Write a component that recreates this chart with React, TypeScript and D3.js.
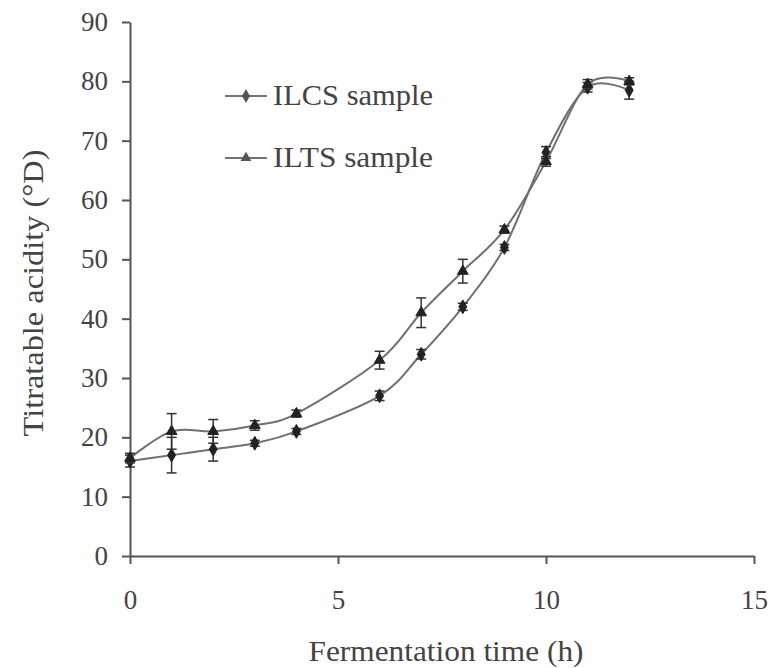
import React, { useRef, useEffect } from "react";
import * as d3 from "d3";

// fermentation time (h)
const times = [0, 1, 2, 3, 4, 6, 7, 8, 9, 10, 11, 12];
const ilcsValues = [16, 17, 18, 19, 21, 27, 34, 42, 52, 68, 79, 78.5];
const ilcsErrors = [1, 3, 2, 0.5, 0.5, 0.8, 0.8, 0.6, 0.5, 1, 0.8, 1.5];
const iltsValues = [16.5, 21, 21, 22, 24, 33, 41, 48, 55, 66.5, 79.5, 80];
const iltsErrors = [0.8, 3, 2, 0.8, 0.6, 1.5, 2.5, 2, 0.6, 0.8, 0.8, 0.6];
const xTicks = [0, 5, 10, 15];
const yTicks = [0, 10, 20, 30, 40, 50, 60, 70, 80, 90];
const seriesNames = ["ILCS sample", "ILTS sample"];

const App = () => {
  const svgRef = useRef<SVGSVGElement | null>(null);

  useEffect(() => {
    const width = 771;
    const height = 668;
    const margin = { top: 22, right: 17, bottom: 112, left: 130 };
    const svg = d3.select(svgRef.current);
    svg.selectAll("*").remove();
    svg.attr("width", width).attr("height", height);

    const x = d3.scaleLinear().domain([0, 15]).range([margin.left, width - margin.right]);
    const y = d3.scaleLinear().domain([0, 90]).range([height - margin.bottom, margin.top]);

    const axisColor = "#555";
    const textColor = "#444";
    const font = "'Liberation Serif', 'Times New Roman', serif";

    // axes
    const xAxis = svg
      .append("g")
      .attr("transform", `translate(0, ${y(0)})`)
      .call(d3.axisBottom(x).tickValues(xTicks).tickSize(8).tickPadding(26).tickSizeOuter(0));
    const yAxis = svg
      .append("g")
      .attr("transform", `translate(${x(0)}, 0)`)
      .call(d3.axisLeft(y).tickValues(yTicks).tickSize(8).tickPadding(14).tickSizeOuter(0));

    [xAxis, yAxis].forEach((g) => {
      g.select(".domain").attr("stroke", axisColor).attr("stroke-width", 2);
      g.selectAll(".tick line").attr("stroke", axisColor).attr("stroke-width", 2);
      g.selectAll(".tick text")
        .attr("fill", textColor)
        .style("font-family", font)
        .style("font-size", "27px");
    });

    // axis titles
    svg
      .append("text")
      .attr("x", 446)
      .attr("y", 661)
      .attr("text-anchor", "middle")
      .attr("fill", textColor)
      .attr("textLength", 275)
      .attr("lengthAdjust", "spacingAndGlyphs")
      .style("font-family", font)
      .style("font-size", "29px")
      .text("Fermentation time (h)");

    svg
      .append("text")
      .attr("transform", `translate(43, 293) rotate(-90)`)
      .attr("text-anchor", "middle")
      .attr("fill", textColor)
      .attr("textLength", 287)
      .attr("lengthAdjust", "spacingAndGlyphs")
      .style("font-family", font)
      .style("font-size", "29px")
      .text("Titratable acidity (°D)");

    const line = d3
      .line<number>()
      .x((_, i) => x(times[i]))
      .y((d) => y(d))
      .curve(d3.curveCardinal.tension(0));

    const diamond = d3.symbol().type(d3.symbolDiamond).size(55);
    const triangle = d3.symbol().type(d3.symbolTriangle).size(50);

    const series = [
      { values: ilcsValues, errors: ilcsErrors, symbol: diamond },
      { values: iltsValues, errors: iltsErrors, symbol: triangle },
    ];

    series.forEach((s) => {
      svg
        .append("path")
        .datum(s.values)
        .attr("d", line)
        .attr("fill", "none")
        .attr("stroke", "#707070")
        .attr("stroke-width", 2);

      const g = svg.append("g");
      // error bars
      g.selectAll("line.err")
        .data(s.values)
        .enter()
        .append("line")
        .attr("x1", (_, i) => x(times[i]))
        .attr("x2", (_, i) => x(times[i]))
        .attr("y1", (d, i) => y(d - s.errors[i]))
        .attr("y2", (d, i) => y(d + s.errors[i]))
        .attr("stroke", "#333")
        .attr("stroke-width", 1.5);
      [-1, 1].forEach((sign) => {
        g.selectAll(`line.cap${sign}`)
          .data(s.values)
          .enter()
          .append("line")
          .attr("x1", (_, i) => x(times[i]) - 5)
          .attr("x2", (_, i) => x(times[i]) + 5)
          .attr("y1", (d, i) => y(d + sign * s.errors[i]))
          .attr("y2", (d, i) => y(d + sign * s.errors[i]))
          .attr("stroke", "#333")
          .attr("stroke-width", 1.5);
      });
      // markers
      g.selectAll("path.mark")
        .data(s.values)
        .enter()
        .append("path")
        .attr("d", s.symbol)
        .attr("transform", (d, i) => `translate(${x(times[i])}, ${y(d)})`)
        .attr("fill", "#222")
        .attr("stroke", "#222");
    });

    // legend
    const legend = svg.append("g");
    [diamond, triangle].forEach((sym, i) => {
      const ly = 96 + i * 62;
      legend
        .append("line")
        .attr("x1", 225)
        .attr("x2", 267)
        .attr("y1", ly)
        .attr("y2", ly)
        .attr("stroke", "#444")
        .attr("stroke-width", 1.5);
      legend
        .append("path")
        .attr("d", sym)
        .attr("transform", `translate(246, ${ly})`)
        .attr("fill", "#555");
      legend
        .append("text")
        .attr("x", 273)
        .attr("y", ly + 9)
        .attr("fill", textColor)
        .attr("textLength", 160)
        .attr("lengthAdjust", "spacingAndGlyphs")
        .style("font-family", font)
        .style("font-size", "29px")
        .text(seriesNames[i]);
    });
  }, []);

  return <svg ref={svgRef} style={{ position: "absolute", left: 0, top: 0 }}></svg>;
};

export default App;
